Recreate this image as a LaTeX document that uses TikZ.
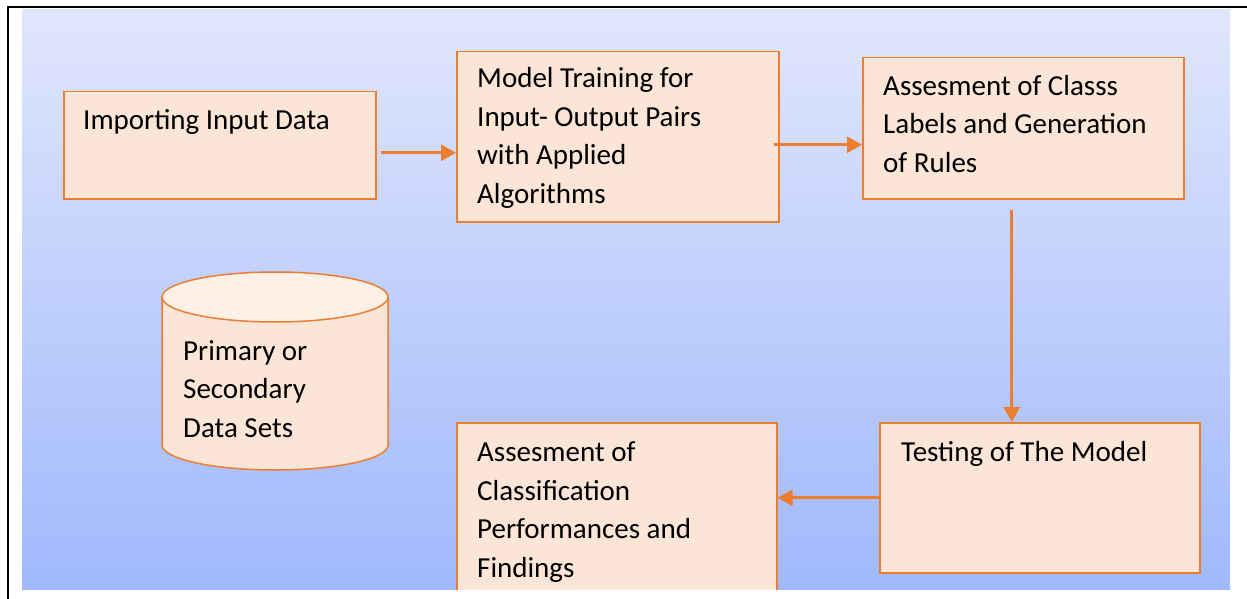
\documentclass[tikz,border=0pt]{standalone}
\usepackage{fontspec}
\setmainfont{Carlito}
\usetikzlibrary{arrows.meta}
\definecolor{boxfill}{RGB}{251,229,214}
\definecolor{boxline}{RGB}{237,125,49}
\definecolor{capfill}{RGB}{253,240,231}
\definecolor{bgtop}{RGB}{224,230,252}
\definecolor{bgbot}{RGB}{160,185,252}
\tikzset{
	box/.style={draw=boxline, fill=boxfill, line width=1.5pt, anchor=north west, inner sep=0pt},
	txt/.style={anchor=base west, align=left, inner sep=0pt, font=\fontsize{29}{38.5}\selectfont},
	flow/.style={draw=boxline, line width=3pt, -{Triangle[length=15pt,width=16pt]}}
}
\begin{document}
\begin{tikzpicture}[x=1pt,y=-1pt]
			\useasboundingbox (0,0) rectangle (1247,599);
			\draw[line width=2.5pt] (8,599) -- (8,7) -- (1247,7);
			\begin{scope}
			\clip (22,10) rectangle (1230,589);
			\shade[top color=bgtop, bottom color=bgbot] (22,10) rectangle (1230,589);
			% process boxes
			\node[box, minimum width=312pt, minimum height=107pt] (imp) at (63,91) {};
			\node[box, minimum width=322pt, minimum height=170pt] (train) at (456,51) {};
			\node[box, minimum width=321pt, minimum height=141pt] (assess) at (862,57) {};
			\node[box, minimum width=320pt, minimum height=150pt] (test) at (879,422) {};
			\node[box, minimum width=320pt, minimum height=180pt] (perf) at (456,422) {};
			% data store
			\fill[boxfill] (162,297) -- (162,445) arc[start angle=180, end angle=0, x radius=113, y radius=25]
				-- (388,297) arc[start angle=0, end angle=180, x radius=113, y radius=25] -- cycle;
			\draw[boxline, line width=1.5pt] (162,297) -- (162,445) arc[start angle=180, end angle=0, x radius=113, y radius=25] -- (388,297);
			\draw[boxline, fill=capfill, line width=1.5pt] (275,297) ellipse[x radius=113, y radius=25];
			% text, placed on the baseline of the last line
			\node[txt] (imptxt) at (83,130) {Importing Input Data};
			\node[txt] (traintxt) at (477,203) {Model Training for\\Input- Output Pairs\\with Applied\\Algorithms};
			\node[txt] (assesstxt) at (883,172) {Assesment of Classs\\Labels and Generation\\of Rules};
			\node[txt] (testtxt) at (901,461) {Testing of The Model};
			\node[txt] (perftxt) at (477,577) {Assesment of\\Classification\\Performances and\\Findings};
			\node[txt] (dbtxt) at (183,437) {Primary or\\Secondary\\Data Sets};
			\draw[flow] ([shift={(4,7.5)}]imp.east) coordinate (a1) -- (a1 -| train.west);
			\draw[flow] ([shift={(-6,8)}]train.east) coordinate (a2) -- (a2 -| assess.west);
			\draw[flow] ([shift={(-11.5,10)}]assess.south) coordinate (a3) -- (a3 |- test.north);
			\draw[flow] (test.west) -- (test.west -| perf.east);
			\end{scope}
			\end{tikzpicture}
\end{document}
